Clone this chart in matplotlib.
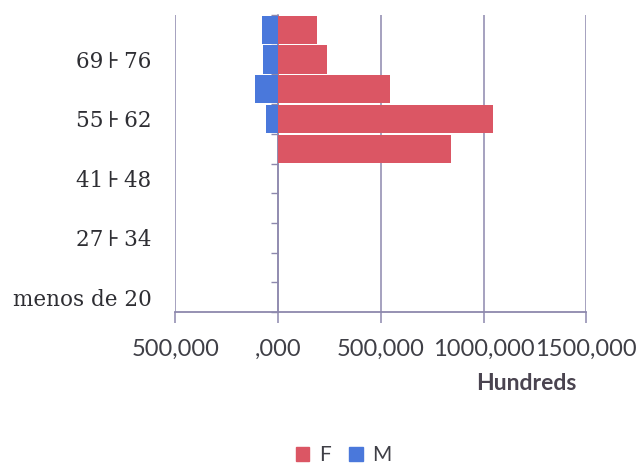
import matplotlib
matplotlib.use("Agg")
import matplotlib.pyplot as plt
from matplotlib.patches import Patch
from matplotlib.ticker import FuncFormatter, FixedLocator

# Age classes (bottom to top) and counts, in hundreds of people
age_classes = ["menos de 20", "20\u2009⊦\u200927", "27\u2009⊦\u200934", "34\u2009⊦\u200941",
               "41\u2009⊦\u200948", "48\u2009⊦\u200955", "55\u2009⊦\u200962",
               "62\u2009⊦\u200969", "69\u2009⊦\u200976", "76\u2009⊦\u200983"]
female = [0, 0, 0, 0, 0, 842, 1048, 545, 240, 190]
male = [0, 0, 0, 0, 0, 0, -61, -110, -72, -80]
x_ticks = [-500, 0, 500, 1000, 1500]

RED = "#db5664"
BLUE = "#4a78db"
GRID = "#8d88ad"
TEXT = "#3f3f46"

fig = plt.figure(figsize=(6.4, 4.66), dpi=100)
ax = fig.add_axes([0.274, 0.330, 0.642, 0.638])

y = list(range(len(age_classes)))
ax.barh(y, female, height=0.95, color=RED, zorder=3)
ax.barh(y, male, height=0.95, color=BLUE, zorder=3)

ax.set_xlim(x_ticks[0], x_ticks[-1])
ax.set_ylim(-0.5, len(age_classes) - 0.5)

# x axis: gridlines, downward ticks, comma-decimal labels without sign
def fmt(v, _pos):
    if v == 0:
        return ",000"
    return f"{abs(v):.3f}".replace(".", ",")

ax.xaxis.set_major_locator(FixedLocator(x_ticks))
ax.xaxis.set_major_formatter(FuncFormatter(fmt))
ax.grid(axis="x", color=GRID, linewidth=1.1, zorder=0)
ax.tick_params(axis="x", direction="out", length=8, width=1.1, color=GRID,
               pad=11, labelsize=17, labelcolor=TEXT)
for lab in ax.get_xticklabels():
    lab.set_fontfamily("Lato")

# y labels at every other class, drawn left of the plot area
ax.set_yticks(y)
ax.set_yticklabels([c if i % 2 == 0 else "" for i, c in enumerate(age_classes)],
                   fontfamily=["DejaVu Serif", "DejaVu Sans"], fontsize=15.5,
                   color="#2e2e33")
ax.tick_params(axis="y", length=0, pad=17)

for side in ("top", "right", "left"):
    ax.spines[side].set_visible(False)
ax.spines["bottom"].set_color(GRID)
ax.spines["bottom"].set_linewidth(1.3)

# category axis through zero with boundary tick marks
zero_frac = (0 - x_ticks[0]) / (x_ticks[-1] - x_ticks[0])
cat_axis = ax.secondary_yaxis(zero_frac)
cat_axis.set_yticks([i - 0.5 for i in range(len(age_classes) + 1)])
cat_axis.set_yticklabels([])
cat_axis.tick_params(axis="y", direction="out", length=5, width=1.0, color=GRID)
cat_axis.spines["left"].set_color(GRID)
cat_axis.spines["left"].set_linewidth(1.1)

fig.text(0.822, 0.178, "Hundreds", fontfamily="Lato", fontweight="bold",
         fontsize=16.5, color="#4a4450", ha="center", va="center")

handles = [Patch(color=RED, label="F"), Patch(color=BLUE, label="M")]
fig.legend(handles=handles, loc="center", bbox_to_anchor=(0.537, 0.023),
           ncol=2, frameon=False, prop={"family": "Lato", "size": 15},
           handlelength=0.65, handleheight=0.65, handletextpad=0.45,
           columnspacing=0.9, labelcolor=TEXT)

fig.savefig("out.png", dpi=100)
